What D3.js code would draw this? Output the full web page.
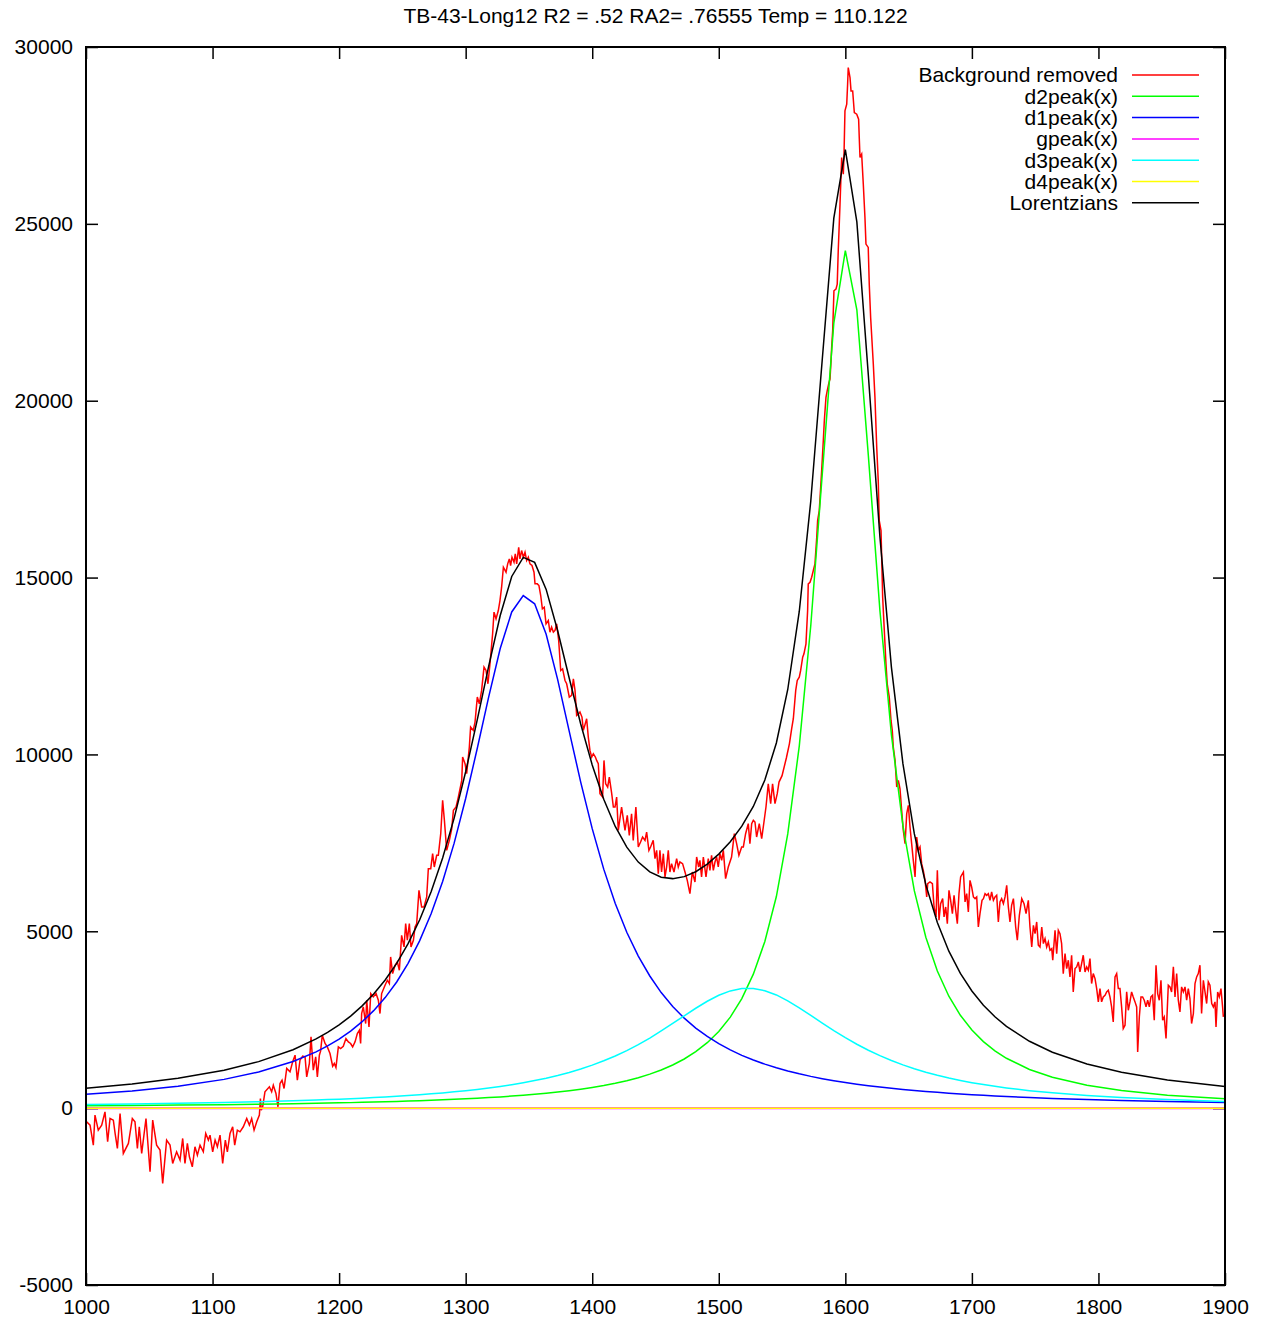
<!DOCTYPE html>
<html><head><meta charset="utf-8">
<script src="https://cdn.jsdelivr.net/npm/d3@7"></script>
<style>
html,body{margin:0;padding:0;background:#fff;}
svg{display:block;}
text{font-family:"Liberation Sans",Arial,sans-serif;}
</style></head><body>
<svg id="chart" width="1272" height="1319"></svg>
<script>
const titleText = "TB-43-Long12 R2 = .52 RA2= .76555 Temp = 110.122";
const xTicks = [1000,1100,1200,1300,1400,1500,1600,1700,1800,1900];
const yTicks = [-5000,0,5000,10000,15000,20000,25000,30000];
const seriesNames = ["Background removed","d2peak(x)","d1peak(x)","gpeak(x)","d3peak(x)","d4peak(x)","Lorentzians"];
const seriesColors = ["#ff0000","#00ff00","#0000ff","#ff00ff","#00ffff","#ffff00","#000000"];

// measured spectrum (background removed)
const redX = [1000.5,1003.2,1005.8,1007.1,1009.7,1012.4,1015.0,1017.1,1019.0,1021.6,1023.0,1024.8,1026.9,1029.5,1033.5,1036.6,1038.7,1040.6,1042.1,1044.0,1047.4,1050.6,1052.7,1055.8,1058.5,1060.6,1063.7,1066.4,1068.5,1071.6,1074.3,1076.4,1078.2,1080.1,1081.7,1084.0,1086.1,1088.0,1090.1,1092.7,1094.6,1096.7,1098.0,1100.1,1102.0,1103.8,1105.9,1108.0,1110.1,1111.7,1113.8,1115.9,1117.5,1119.6,1121.7,1124.3,1127.0,1129.1,1130.9,1132.8,1134.9,1137.0,1137.8,1138.5,1139.6,1141.4,1144.9,1146.7,1148.0,1150.1,1151.7,1153.3,1154.9,1156.5,1158.6,1161.2,1163.3,1165.2,1167.0,
1169.1,1171.2,1173.1,1174.4,1176.5,1177.8,1179.6,1181.5,1182.8,1184.4,1185.4,1186.7,1188.9,1190.7,1192.8,1194.9,1196.2,1197.5,1199.4,1201.2,1203.3,1205.4,1207.3,1209.1,1210.7,1212.6,1214.4,1216.0,1217.0,1217.8,1219.1,1221.0,1221.8,1223.6,1225.0,1227.0,1229.2,1231.0,1232.3,1233.6,1236.3,1238.1,1239.7,1240.7,1242.3,1244.2,1246.0,1247.6,1249.4,1251.3,1252.6,1253.9,1255.5,1256.8,1258.7,1260.0,1261.3,1263.1,1265.2,1267.1,1269.2,1270.5,1272.4,1273.9,1275.2,1277.1,1278.4,1280.3,1281.8,1283.2,1285.0,1287.1,1289.0,1290.3,1292.4,1294.2,1296.9,
1297.6,1299.5,1300.8,1302.9,1303.9,1306.0,1307.4,1309.2,1310.8,1312.6,1314.5,1316.1,1317.6,1319.2,1321.3,1322.4,1324.0,1325.8,1327.1,1328.4,1329.8,1331.9,1333.2,1334.5,1335.5,1336.6,1338.2,1339.2,1340.3,1341.9,1342.9,1344.2,1345.6,1346.9,1348.2,1349.5,1350.8,1352.4,1354.0,1354.8,1356.6,1357.9,1359.3,1360.6,1362.1,1363.5,1365.3,1366.6,1367.9,1369.3,1370.6,1371.9,1373.5,1375.1,1376.6,1378.5,1379.8,1381.9,1383.7,1385.1,1386.4,1387.7,1389.3,1390.3,1391.9,1393.0,1394.5,1395.6,1396.9,1398.2,1399.6,1400.9,1402.5,1403.5,1404.8,1406.1,1408.2,1409.3,1410.6,1412.2,1413.5,1415.4,1416.7,1418.0,1419.3,1420.6,
1423.2,1425.9,1427.7,1429.3,1431.1,1432.4,1434.5,1436.4,1438.2,1439.8,1441.7,1443.0,1444.8,1446.1,1448.2,1449.6,1450.9,1452.2,1453.5,1454.8,1456.2,1457.5,1458.8,1460.1,1461.4,1462.7,1464.6,1466.7,1468.0,1469.3,1471.4,1473.3,1475.1,1477.2,1479.1,1481.2,1482.5,1484.1,1485.1,1486.4,1487.8,1489.9,1491.7,1493.0,1494.3,1495.7,1497.0,1498.3,1499.6,1500.9,1502.3,1503.6,1505.4,1507.5,1510.1,1512.3,1514.1,1515.9,1518.1,1519.4,1521.2,1523.3,1524.6,1526.0,1527.3,1528.6,1529.9,1532.0,1533.9,1535.7,1537.3,1539.1,1541.0,1542.5,1544.4,1546.2,1547.6,1550.0,1553.4,1555.8,
1557.6,1558.9,1560.8,1562.0,1563.6,1564.7,1566.3,1567.3,1568.9,1570.2,1570.7,1572.1,1573.4,1574.7,1576.0,1577.4,1578.1,1579.4,1581.3,1582.6,1583.4,1584.7,1585.7,1587.1,1587.9,1588.7,1589.2,1590.0,
1591.0,1592.6,1593.6,1594.4,1595.8,1597.1,1598.4,1598.9,1599.7,1601.1,1601.8,1602.3,1603.7,1604.5,1605.8,1607.1,1609.0,1610.5,1611.0,1611.6,1612.9,1614.2,1615.5,1616.3,1618.1,1618.9,1620.0,
1622.1,1623.4,1624.8,1626.0,1626.8,1628.2,1629.5,1630.8,1632.1,1633.1,1634.7,1636.1,1637.1,
1637.9,1639.3,1640.6,1641.9,1643.2,1644.5,1645.8,1647.2,1648.5,1649.8,1651.1,1652.4,1653.7,1655.1,1656.4,1657.7,1659.0,1660.3,1661.6,1663.0,1664.3,1665.1,1666.9,1668.8,1670.1,1671.7,1672.7,1674.0,1675.3,1676.9,1678.0,1679.3,1680.6,1681.9,1683.2,1684.6,1685.9,1687.2,1688.5,1689.8,1691.1,1693.3,1694.6,1695.9,1697.2,1698.5,1699.8,1701.2,1702.5,1703.8,1705.1,1706.4,1708.0,1709.1,1710.4,1711.7,1713.0,1714.3,1715.6,1717.0,1718.3,1719.6,1720.9,1722.2,1723.5,1724.9,1726.2,1727.5,1728.8,1730.1,1731.4,1732.8,1734.6,1735.9,1737.5,1739.4,1741.2,1742.8,1744.6,1745.9,1747.3,1748.6,1749.9,1751.2,1752.5,1753.8,1755.2,1756.5,1757.8,1759.1,1760.4,1761.7,1763.1,1763.9,1765.7,1767.0,1768.3,1769.6,
1770.9,1772.2,1773.6,1774.9,1776.2,1777.5,1778.8,1780.1,1781.5,1782.8,1784.1,1785.4,1786.7,1788.0,1789.4,1790.7,1792.0,1793.3,1794.6,1795.9,1797.3,1798.6,1799.9,1801.2,1802.5,1803.8,1805.2,1806.5,1807.8,1809.1,1810.4,1811.7,1813.1,1814.4,1815.7,1817.0,1818.3,1819.6,1821.0,1822.3,1823.6,1824.9,1826.2,1827.5,1828.9,1830.2,1831.0,1832.3,1833.6,1834.9,1836.2,1837.6,1838.9,1840.2,1841.5,1842.8,1844.1,1845.5,1846.8,1848.1,1849.4,1850.7,1852.0,1853.4,1855.2,1856.5,1857.8,1859.2,1860.5,1861.8,1863.1,1864.4,1865.7,1867.1,1868.4,1869.7,1871.0,1872.3,1873.6,1875.0,1876.3,1877.6,1878.9,1880.2,1881.5,1882.9,1884.2,1885.5,1886.8,1888.1,1889.5,1890.8,1892.1,1892.9,1894.2,1895.5,1896.8,1898.1,1898.7];
const redY = [-386,-480,-1045,-198,-622,-480,-104,-951,-292,-339,-716,-1140,-151,-1281,-998,-292,-386,-1140,-527,-1281,-292,-1799,-339,-1045,-1187,-2128,-904,-1045,-1563,-1234,-1469,-857,-1563,-998,-1375,-1658,-1092,-1328,-1045,-1234,-716,-904,-763,-1234,-904,-1092,-763,-1563,-904,-1234,-716,-527,-1045,-622,-669,-527,-292,-480,-292,-622,-386,-198,273,-57,38,461,603,461,650,414,38,697,791,556,1121,1026,1309,1497,791,
1356,1469,1450,885,1262,2015,1073,1450,885,1497,1619,2062,1827,1732,1544,1186,1262,1149,1732,1685,1751,1968,1874,1827,1732,1874,2109,2203,1827,2674,2862,2392,3051,2297,3239,3145,3239,3051,2674,3239,3475,3616,3522,4275,3804,4040,4134,3898,4887,4557,5217,4746,5217,4557,4746,5123,5217,6158,5688,5688,5970,6771,6771,7194,6818,7147,7147,7759,8701,8136,7289,7571,7901,8418,8513,8795,9266,
9925,9737,9455,10208,10773,10679,10914,11621,11432,11809,12468,12374,11997,12562,13410,14022,13834,14069,14351,14728,15293,15152,15387,15529,15340,15576,15434,15670,15387,15858,15529,15764,15576,15717,15482,15576,15387,15340,15152,14822,14822,14775,14493,14116,14163,13692,13787,13457,13598,13457,13504,13692,13221,12374,12421,12091,11997,11621,11668,12138,11809,11103,11150,11197,11056,10679,10867,11009,10491,10114,9925,10020,9925,9831,9737,8890,8795,9831,9172,9077,9360,8890,8513,8513,8795,7854,
8513,7853,8277,7712,8324,7571,8513,7383,7524,7665,7571,7806,7288,7383,7571,7053,7288,6629,7288,6676,7194,6535,6818,7288,6676,6912,6676,7053,6818,6959,6912,6676,6441,6064,6676,6394,7100,6818,7006,6535,7100,6535,7053,6724,7147,6724,6959,7100,6818,7194,7006,7288,6488,6818,7100,7759,7477,7147,7383,7383,7759,8042,7477,8042,8136,8089,7665,8042,7618,8089,8513,9172,8607,9172,8607,8890,9219,9400,9900,10300,
10727,11009,11809,12091,12185,12374,12750,12845,13128,14069,14823,14868,15010,15199,15388,16140,16611,16894,18024,18871,19436,20094,20284,20518,20613,21131,21507,21979,
23109,23156,23297,24239,25558,26875,26405,26875,28194,28382,28947,29417,29134,28759,28759,28145,28100,27959,27440,26875,26970,26122,25180,24428,24333,23297,22354,
21037,20094,18682,17741,16611,16329,14445,13503,12563,11998,11619,10961,10678,
10208,9831,9078,9266,9030,8418,7853,7477,8324,8560,7948,7477,7006,6535,7665,7288,7383,6912,6723,6441,5970,6347,6394,6347,5687,5405,6723,5311,5782,5923,5405,5687,5217,6158,5876,5499,6017,5593,5217,6064,6535,6676,5829,6064,5546,6441,6253,5970,5923,5970,5122,5499,5876,5923,6064,6017,6064,5876,6111,5876,5970,6017,5264,5829,5923,5782,5970,6300,5688,5264,5735,5923,5122,4746,5452,5923,5782,5499,5876,5122,4557,5170,4934,5264,4605,4557,5122,4652,4793,4557,4699,4463,4510,4181,5028,4369,5028,4934,
4652,3804,4369,3945,4181,3710,4322,3286,3945,3993,4134,3851,4087,4322,3851,3993,3898,4228,3522,3804,3663,3381,3004,3381,3004,3145,3192,3286,3333,3145,2862,2439,3710,3804,3381,3381,2862,2250,2345,3286,2768,3004,3286,3145,3004,2862,1591,2580,3145,3145,3051,2862,3051,2862,3145,3192,2486,4040,3239,3051,3616,2486,2580,1968,3475,3428,3286,3993,3145,3804,3051,2721,3428,3286,3428,3051,3381,3098,2392,2674,3522,3710,3804,4040,2674,3616,3286,2957,3569,3475,2957,2862,3004,2298,3286,3145,3381,2862,2580];

// fitted component curves (sample positions and values)
const curveX = [1000,1036.4,1072.7,1109.1,1136.4,1163.6,1181.8,1190.9,1200,1209.1,1218.2,1227.3,1236.4,1245.5,1254.5,1263.6,1272.7,1281.8,1290.9,1300,1309.1,1318.2,1327.3,1336.4,1345.5,1354.5,1363.6,1372.7,1381.8,1390.9,1400,1409.1,1418.2,1427.3,1436.4,1445.5,1454.5,1463.6,1472.7,1481.8,1490.9,1500,1509.1,1518.2,1527.3,1536.4,1545.5,1554.5,1563.6,1572.7,1581.8,1590.9,1600,1609.1,1618.2,1627.3,1636.4,1645.5,1654.5,1663.6,1672.7,1681.8,1690.9,1700,1709.1,1718.2,1727.3,1745.5,1763.6,1790.9,1818.2,1854.5,1900];
const d1Vals = [394,488,621,813,1022,1319,1591,1759,1953,2179,2444,2756,3126,3566,4095,4729,5493,6408,7492,8753,10160,11629,12996,14028,14490,14258,13397,12116,10659,9217,7902,6757,5786,4974,4298,3736,3267,2875,2544,2264,2026,1822,1646,1493,1360,1244,1141,1050,970,898,834,776,724,677,634,595,560,528,498,471,446,422,401,381,363,346,330,301,276,243,216,187,158];
const d2Vals = [67,75,86,99,111,125,136,143,149,156,164,172,180,189,199,210,222,235,248,264,280,298,318,340,364,391,421,455,493,536,584,639,703,776,861,961,1079,1220,1390,1596,1851,2169,2574,3097,3787,4712,5982,7753,10235,13645,17940,22193,24244,22571,18441,14081,10562,7987,6149,4833,3875,3164,2625,2209,1882,1621,1410,1094,872,646,497,367,265];
const d3Vals = [102,117,136,160,182,208,230,242,254,268,283,299,317,336,356,379,404,431,460,493,529,569,613,663,718,779,847,924,1010,1107,1216,1338,1475,1628,1797,1982,2182,2394,2611,2824,3022,3191,3314,3381,3383,3320,3200,3033,2837,2623,2406,2194,1994,1807,1637,1484,1346,1223,1113,1016,929,852,783,721,666,616,572,495,432,358,300,242,191];
const lorVals = [563,680,843,1072,1315,1652,1957,2144,2356,2603,2891,3227,3623,4091,4650,5318,6119,7074,8200,9510,10969,12496,13927,15031,15572,15428,14665,13495,12162,10860,9702,8734,7964,7378,6956,6679,6528,6489,6545,6684,6899,7182,7534,7971,8530,9276,10323,11836,14042,17166,21180,25163,27100,25055,20712,16160,12468,9738,7760,6320,5250,4438,3809,3311,2911,2583,2312,1890,1580,1247,1013,796,614];
const flatX = [1000,1900];
const gpeakVals = [0,0];
const d4Vals = [0,0];

const L=86, R=1225, T=47, B=1285;
const svg = d3.select("#chart");
const x = d3.scaleLinear().domain([1000,1900]).range([L,R]);
const y = d3.scaleLinear().domain([-5000,30000]).range([B,T]);

svg.append("defs").append("clipPath").attr("id","clip")
  .append("rect").attr("x",L).attr("y",T).attr("width",R-L).attr("height",B-T);

function styleAxis(g){
  g.select(".domain").remove();
  g.attr("font-family",'"Liberation Sans",Arial,sans-serif').attr("font-size",21);
  g.selectAll(".tick line").attr("stroke","#000").attr("stroke-width",1.5);
  g.selectAll(".tick text").attr("fill","#000");
}
const fmt = d => String(d);
svg.append("g").attr("transform",`translate(0,${B})`)
  .call(d3.axisBottom(x).tickValues(xTicks).tickSize(-12).tickPadding(14).tickFormat(fmt)).call(styleAxis);
svg.append("g").attr("transform",`translate(0,${T})`)
  .call(d3.axisTop(x).tickValues(xTicks).tickSize(-12).tickFormat(()=>"")).call(styleAxis);
svg.append("g").attr("transform",`translate(${L},0)`)
  .call(d3.axisLeft(y).tickValues(yTicks).tickSize(-12).tickPadding(13).tickFormat(fmt)).call(styleAxis);
svg.append("g").attr("transform",`translate(${R},0)`)
  .call(d3.axisRight(y).tickValues(yTicks).tickSize(-12).tickFormat(()=>"")).call(styleAxis);

const line = d3.line().x(d=>x(d[0])).y(d=>y(d[1]));
const plot = svg.append("g").attr("clip-path","url(#clip)");
const series = [
  {xs:redX, ys:redY},
  {xs:curveX, ys:d2Vals},
  {xs:curveX, ys:d1Vals},
  {xs:flatX, ys:gpeakVals},
  {xs:curveX, ys:d3Vals},
  {xs:flatX, ys:d4Vals},
  {xs:curveX, ys:lorVals}
];
series.forEach((s,i)=>{
  const pts = s.xs.map((v,k)=>[v,s.ys[k]]);
  plot.append("path").datum(pts).attr("d",line)
    .attr("fill","none").attr("stroke",seriesColors[i])
    .attr("stroke-width", i===3 ? 2 : 1.5).attr("stroke-linejoin","miter");
});

svg.append("rect").attr("x",L).attr("y",T).attr("width",R-L).attr("height",B-T)
  .attr("fill","none").attr("stroke","#000").attr("stroke-width",2);

svg.append("text").attr("x",(L+R)/2).attr("y",23).attr("text-anchor","middle")
  .attr("font-size",21).attr("fill","#000").text(titleText);

const leg = svg.append("g");
seriesNames.forEach((n,i)=>{
  const yy = 75 + i*21.3;
  leg.append("text").attr("x",1118).attr("y",yy).attr("dy","0.35em")
    .attr("text-anchor","end").attr("font-size",21).attr("fill","#000").text(n);
  leg.append("line").attr("x1",1132).attr("x2",1199).attr("y1",yy).attr("y2",yy)
    .attr("stroke",seriesColors[i]).attr("stroke-width",1.5);
});
</script>
</body></html>
